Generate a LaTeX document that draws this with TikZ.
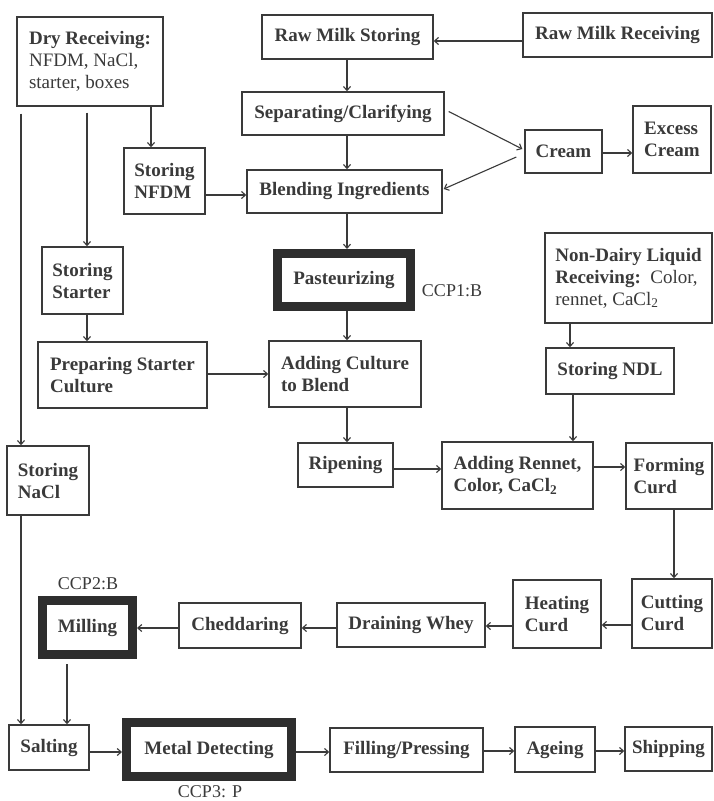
\documentclass[tikz,border=0pt]{standalone}
\usepackage{fontspec}
\setmainfont{Liberation Serif}
\usetikzlibrary{arrows.meta}
\definecolor{ink}{HTML}{3A3A3A}
\definecolor{dark}{HTML}{2E2E2E}
\newcommand\fsz{\fontsize{19}{22}\selectfont}
\newcommand\lsz{\fontsize{18}{21}\selectfont}
\begin{document}
\begin{tikzpicture}[x=1pt,y=-1pt,
  box/.style={draw=ink, line width=1.4pt, text=ink, font=\fsz\bfseries, align=left, inner sep=0pt},
  heavy/.style={draw=dark, line width=9pt, outer sep=4.5pt, text=ink, font=\fsz\bfseries, align=left, inner sep=0pt},
  arr/.style={draw=ink, line width=1.1pt, -{Straight Barb[length=4pt,width=7pt]}},
  lbl/.style={text=ink, font=\lsz, inner sep=0pt}]
\useasboundingbox[fill=white] (0,0) rectangle (714,801);

% top area
\node[box, minimum width=146pt, minimum height=89pt] (dry) at (90,61.5)
  {Dry Receiving:\\\mdseries NFDM, NaCl,\\\mdseries starter, boxes};
\node[box, minimum width=171pt, minimum height=44pt] (rms) at (347.5,37) {Raw Milk Storing};
\node[box, minimum width=189pt, minimum height=44pt] (rmr) at (617.5,35) {Raw Milk Receiving};
\node[box, minimum width=202pt, minimum height=43pt] (sep) at (343,113.5) {Separating/Clarifying};
\node[box, minimum width=195pt, minimum height=43pt] (blend) at (344.5,191.5) {Blending Ingredients};
\node[box, minimum width=81pt, minimum height=66pt] (snfdm) at (164.5,181) {Storing\\NFDM};
\node[box, minimum width=77pt, minimum height=43pt] (cream) at (563.5,151.5) {Cream};
\node[box, minimum width=78pt, minimum height=67pt] (excess) at (672,139.5) {Excess\\Cream};

% middle
\node[box, minimum width=81pt, minimum height=67pt] (sstarter) at (82.5,280.5) {Storing\\Starter};
\node[heavy, minimum width=133pt, minimum height=53pt] (past) at (344,280) {Pasteurizing};
\node[lbl] (ccp1) at (452,291) {CCP1:B};
\node[box, minimum width=167pt, minimum height=90pt] (ndl) at (628.5,278)
  {Non-Dairy Liquid\\Receiving:\mdseries\ \ Color,\\\mdseries rennet, CaCl\textsubscript{2}};
\node[box, minimum width=169pt, minimum height=66pt] (prep) at (122.5,375) {Preparing Starter\\Culture};
\node[box, minimum width=152pt, minimum height=66pt] (addcult) at (345,374) {Adding Culture\\to Blend};
\node[box, minimum width=128pt, minimum height=46pt] (sndl) at (610,371) {Storing NDL};
\node[box, minimum width=82pt, minimum height=69pt] (snacl) at (48,480.5) {Storing\\NaCl};
\node[box, minimum width=95pt, minimum height=44pt] (ripen) at (345.5,465) {Ripening};
\node[box, minimum width=151pt, minimum height=67pt] (rennet) at (517.5,475.5) {Adding Rennet,\\Color, CaCl\textsubscript{2}};
\node[box, minimum width=86pt, minimum height=66pt] (forming) at (669,476) {Forming\\Curd};

% lower
\node[box, minimum width=80pt, minimum height=69pt] (cutting) at (672,613.5) {Cutting\\Curd};
\node[box, minimum width=88pt, minimum height=68pt] (heating) at (557,614) {Heating\\Curd};
\node[box, minimum width=148pt, minimum height=44pt] (draining) at (411,625) {Draining Whey};
\node[box, minimum width=122pt, minimum height=45pt] (ched) at (240,625.5) {Cheddaring};
\node[heavy, minimum width=90pt, minimum height=54pt] (milling) at (87.5,627.5) {Milling};
\node[lbl] (ccp2) at (88,584) {CCP2:B};

% bottom row
\node[box, minimum width=80pt, minimum height=45pt] (salting) at (49,747.5) {Salting};
\node[heavy, minimum width=165pt, minimum height=54pt] (metal) at (209,749.5) {Metal Detecting};
\node[lbl] (ccp3) at (210,792) {CCP3: P};
\node[box, minimum width=153pt, minimum height=44pt] (filling) at (406.5,750) {Filling/Pressing};
\node[box, minimum width=80pt, minimum height=45pt] (ageing) at (555,749.5) {Ageing};
\node[box, minimum width=87pt, minimum height=44pt] (shipping) at (668.5,749) {Shipping};

% connectors
\draw[arr] (rmr.west |- 0,41) -- (rms.east |- 0,41);
\draw[arr] (rms.south -| 347,0) -- (sep.north -| 347,0);
\draw[arr] (sep.south -| 347,0) -- (blend.north -| 347,0);
\draw[arr] (dry.south -| 151,0) -- (snfdm.north -| 151,0);
\draw[arr] (snfdm.east |- 0,195) -- (blend.west |- 0,195);
\draw[arr] ([xshift=4pt,yshift=2pt]sep.east) -- ([xshift=-2pt,yshift=2.5pt]cream.west);
\draw[arr] ([xshift=-8pt,yshift=-5.5pt]cream.west) -- ([xshift=1pt,yshift=2.5pt]blend.east);
\draw[arr] (cream.east |- 0,153) -- (excess.west |- 0,153);
\draw[arr] (blend.south -| 347,0) -- (past.north -| 347,0);
\draw[arr] (past.south -| 347,0) -- (addcult.north -| 347,0);
\draw[arr, shorten <=6pt] (dry.south -| 87,0) -- (sstarter.north -| 87,0);
\draw[arr, shorten <=7pt] (dry.south -| 21,0) -- (snacl.north -| 21,0);
\draw[arr] (sstarter.south -| 87,0) -- (prep.north -| 87,0);
\draw[arr] (prep.east |- 0,374) -- (addcult.west |- 0,374);
\draw[arr] (addcult.south -| 347,0) -- (ripen.north -| 347,0);
\draw[arr] (ripen.east |- 0,469) -- (rennet.west |- 0,469);
\draw[arr] (ndl.south -| 570,0) -- (sndl.north -| 570,0);
\draw[arr] (sndl.south -| 573,0) -- (rennet.north -| 573,0);
\draw[arr] (rennet.east |- 0,467) -- (forming.west |- 0,467);
\draw[arr] (forming.south -| 674,0) -- (cutting.north -| 674,0);
\draw[arr] (cutting.west |- 0,625) -- (heating.east |- 0,625);
\draw[arr] (heating.west |- 0,626) -- (draining.east |- 0,626);
\draw[arr] (draining.west |- 0,628) -- (ched.east |- 0,628);
\draw[arr] (ched.west |- 0,628) -- (milling.east |- 0,628);
\draw[arr] (snacl.south -| 21,0) -- (salting.north -| 21,0);
\draw[arr, shorten <=5pt] (milling.south -| 67,0) -- (salting.north -| 67,0);
\draw[arr] (salting.east |- 0,752) -- (metal.west |- 0,752);
\draw[arr] (metal.east |- 0,752) -- (filling.west |- 0,752);
\draw[arr] (filling.east |- 0,751) -- (ageing.west |- 0,751);
\draw[arr] (ageing.east |- 0,751) -- (shipping.west |- 0,751);
\end{tikzpicture}
\end{document}
